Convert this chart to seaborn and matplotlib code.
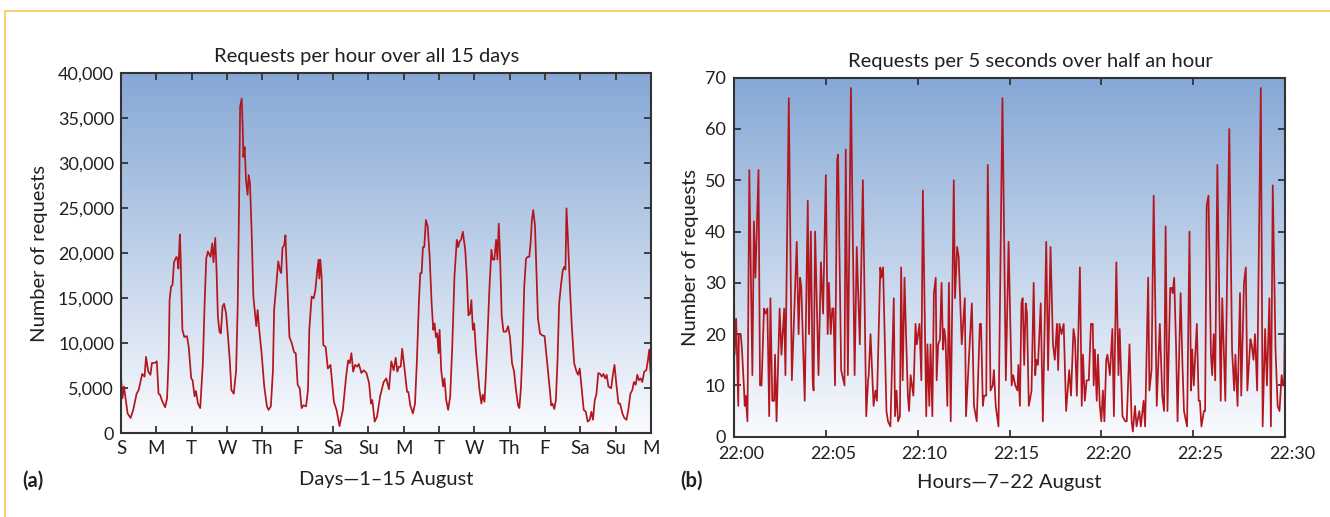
import numpy as np
import pandas as pd
import matplotlib
matplotlib.use("Agg")
import matplotlib.pyplot as plt
from matplotlib.lines import Line2D
from matplotlib.transforms import ScaledTranslation
import seaborn as sns

# ---------------- data: panel (a) requests per hour, 1-15 August ----------------
hours_a = [0, 1, 2, 4.5, 6.5, 8.3, 10.6, 12, 14.4, 16, 17, 18.5, 20, 21, 23.4, 24.3, 25.5, 26.6, 27.7, 28.8,
           30, 31.3, 32.4, 33, 34, 35, 36, 37.6, 38.3, 39, 40, 40.5, 41.7, 43, 44.8, 46, 47.7, 48.6, 50, 50.9,
           52.3, 53.8, 55.6, 56.8, 57.9, 59, 60.8, 62, 62.8, 64, 64.9, 65.8, 66.9, 67.8, 69, 70, 71.4, 72.7, 73.9, 75,
           76.6, 78.2, 79.3, 80.2, 80.9, 82, 82.7, 83.1, 84, 84.9, 86, 86.7, 87.6, 88.7, 89.9, 91.2, 91.9, 92.8, 93.9, 95.5,
           97.3, 99.1, 100.2, 101.8, 103.2, 104, 105.4, 106.8, 108, 108.8, 109.7, 110.8, 111.7, 112.6, 114.4, 116, 117.6, 118.7, 120, 121.4,
           122.7, 123.9, 125.7, 127, 127.9, 129.5, 130.9, 132, 133.3, 134.2, 134.7, 135.4, 136.3, 137.4, 139, 140.5, 142.3, 144.6, 146.4, 148.4,
           150.7, 152.9, 154.3, 155.4, 156.5, 157.7, 159, 160.4, 161.5, 163.3, 164.9, 166.7, 168.5, 169.8, 170.7, 172.3, 173.9, 176, 178.4, 180.2,
           182, 183.6, 185.2, 186.6, 187.7, 188.8, 190, 191, 192.7, 194.3, 195.2, 196.5, 198.3, 199.7, 201, 202.4, 203.3, 204.2, 205.1, 206,
           207.1, 208.3, 209.6, 211, 212.1, 213, 213.9, 214.8, 215.7, 216.4, 217.5, 218.8, 219.7, 220.9, 222.2, 223.6, 225, 226.5, 228.1, 229,
           229.9, 231, 232.2, 233.8, 234.9, 236, 237.1, 238, 239, 239.9, 241.2, 242.3, 243.5, 244.8, 245.7, 246.9, 248, 249.1, 250.3, 251.6,
           252.5, 253.6, 254.8, 255.7, 256.6, 257.5, 258.6, 259.8, 261.6, 262.9, 264.2, 265.6, 267, 268.3, 269.7, 270.6, 271.7, 272.8, 273.9, 275.1,
           276.2, 277.3, 278.2, 279.1, 280, 281.2, 282.3, 283.2, 284.6, 285.9, 287.7, 289.1, 290.2, 291.3, 292.2, 293.1, 294.3, 295.4, 296.5, 297.6,
           299, 300.1, 301, 301.9, 302.6, 303.5, 304.9, 306.2, 307.8, 309.4, 310.5, 311.6, 313, 314.3, 315.7, 317, 318.4, 319.5, 320.6, 321.8,
           322.9, 324.2, 325.4, 326.5, 327.7, 328.8, 329.9, 331.1, 332.9, 334.3, 335.2, 336.5, 337.9, 339, 340.6, 341.9, 343.3, 344.6, 346, 347.3,
           348.4, 349.6, 350.7, 351.8, 353, 354.1, 355.4, 356.8, 357.9, 358.8, 359.7]
requests_a = [6300, 3900, 5200, 2200, 1700, 2600, 4400, 4800, 6600, 6300, 8500, 6850, 6500, 7800, 7850, 8000, 4400, 4260, 3700, 3300,
              2900, 3900, 8500, 14800, 16300, 16500, 19000, 19600, 19400, 18300, 22100, 19600, 11500, 10700, 10800, 9600, 6100, 5900, 4100, 4700,
              3300, 2800, 7800, 14400, 19400, 20200, 19600, 21100, 19000, 21700, 18100, 13000, 11300, 11100, 14100, 14400, 13300, 10700, 8100, 4800,
              4400, 7000, 14400, 25600, 36300, 37200, 33700, 30700, 31800, 28100, 26500, 28700, 27800, 22600, 15200, 13000, 11900, 13700, 11500, 8900,
              5200, 3000, 2600, 3000, 7000, 13700, 16300, 19100, 18100, 17800, 20600, 20900, 22000, 18100, 10700, 10000, 9000, 8900, 5400, 5000,
              2800, 3100, 3000, 4800, 11500, 15200, 15000, 15900, 18100, 19300, 17200, 19300, 17200, 9800, 9600, 7200, 7600, 3500, 2600, 800,
              2600, 6300, 8100, 7800, 8900, 6850, 7600, 7400, 7700, 6700, 7000, 6700, 5600, 3300, 3700, 1300, 1850, 4100, 5700, 6100,
              4900, 8000, 7000, 8400, 6850, 7400, 7400, 9400, 7000, 4600, 4600, 3100, 2200, 3300, 8100, 14800, 17800, 17800, 20700, 20700,
              23700, 23000, 19800, 14400, 11500, 12200, 10700, 11100, 8900, 11500, 7000, 5200, 6100, 3700, 2600, 4100, 9600, 17400, 21500, 20700,
              21300, 21500, 22400, 20400, 17400, 13100, 13300, 14800, 11500, 12200, 8900, 7000, 4800, 3300, 4300, 3500, 7000, 11500, 16300, 20400,
              19300, 19300, 21500, 19300, 23300, 19600, 13000, 11300, 11300, 11900, 10700, 7800, 6850, 4800, 3100, 2800, 5200, 9600, 16300, 19400,
              19600, 19600, 21100, 23700, 24800, 23100, 17400, 12800, 11100, 10900, 10800, 8500, 6700, 4800, 3100, 3300, 2700, 3700, 8100, 14400,
              16700, 18100, 18500, 18200, 25000, 21900, 16300, 11900, 7800, 6850, 6500, 7200, 4800, 2600, 2400, 1300, 1500, 2400, 1500, 3700,
              4300, 6700, 6600, 6300, 6600, 6100, 6500, 5200, 5000, 6700, 7600, 5400, 3300, 3300, 2200, 1700, 1500, 2600, 4400, 4800,
              5700, 5400, 6500, 5900, 6100, 5700, 6850, 7000, 8100, 9300, 6700]
day_labels = ["S", "M", "T", "W", "Th", "F", "Sa", "Su", "M", "T", "W", "Th", "F", "Sa", "Su", "M"]
yticks_a = [0, 5000, 10000, 15000, 20000, 25000, 30000, 35000, 40000]

# ---------------- data: panel (b) requests per 5 seconds, 22:00-22:30 ----------------
seconds_b = [0, 2, 7, 10, 14, 16, 22, 26, 33, 35, 38, 44, 50, 60, 65, 70, 80, 85, 90, 98,
             103, 109, 115, 119, 125, 131, 134, 139, 149, 155, 164, 168, 179, 189, 205, 211, 216, 220, 231, 241,
             245, 251, 257, 260, 265, 276, 284, 291, 300, 306, 310, 316, 321, 325, 330, 337, 340, 350, 361, 365,
             372, 382, 394, 401, 411,
             421, 432, 438, 440, 446, 456, 462, 467, 478, 481, 487, 498, 503, 511, 522, 526, 531, 536, 542, 546,
             551, 557, 562, 568, 572, 577, 586, 593, 597, 606, 612, 617, 628, 632, 638, 642, 648, 653, 659, 662,
             667, 673, 678, 683, 687, 691, 697, 702, 708, 718, 722, 729, 734, 744, 754, 758, 768, 777, 784, 793,
             803, 807, 813, 817, 824, 829, 838, 845, 849, 855, 864,
             877, 888, 897, 907, 912, 919, 926, 929, 934, 939, 943, 948, 953, 957, 963, 972, 979, 984, 988, 993,
             1002, 1009, 1020, 1026, 1034, 1042, 1048, 1055, 1059, 1063, 1070, 1077, 1085, 1095, 1101, 1109, 1114, 1120, 1130, 1136,
             1140, 1146, 1152, 1159, 1166, 1172, 1175, 1179, 1185, 1189, 1195, 1200, 1205, 1210, 1216, 1220, 1228, 1236, 1241, 1249,
             1256, 1260, 1269, 1278, 1283, 1292, 1299, 1303, 1310, 1315, 1324, 1329,
             1338, 1343, 1353, 1357, 1364, 1371, 1381, 1391, 1399, 1405, 1410, 1416, 1425, 1430, 1433, 1438, 1444, 1449, 1459, 1465,
             1470, 1480, 1488, 1493, 1497, 1502, 1512, 1518, 1522, 1527, 1535, 1539, 1544, 1550, 1558, 1562, 1567, 1572, 1579, 1590,
             1595, 1605, 1618, 1627, 1634, 1638, 1645, 1653, 1657, 1666, 1672, 1677, 1687, 1691, 1697, 1702, 1709, 1721, 1727, 1735,
             1741, 1749, 1754, 1760, 1769, 1776, 1782, 1789, 1793, 1797, 1800]
requests_b = [28, 16, 23, 16, 6, 20, 20, 17, 9, 6, 8, 3, 52, 12, 42, 31, 52, 10, 10, 25,
              24, 25, 4, 27, 7, 7, 16, 3, 25, 16, 25, 12, 66, 11, 38, 20, 31, 29, 7, 46,
              20, 40, 11, 9, 40, 12, 34, 24, 51, 20, 30, 20, 25, 25, 10, 54, 55, 13, 10, 56,
              12, 68, 12, 37, 18,
              50, 4, 11, 12, 20, 6, 9, 7, 33, 31, 33, 5, 3, 2, 27, 4, 9, 3, 4, 33,
              11, 31, 20, 8, 5, 12, 8, 22, 18, 22, 11, 48, 4, 18, 6, 18, 4, 28, 31, 11,
              18, 19, 30, 17, 21, 19, 6, 30, 3, 50, 27, 37, 35, 18, 27, 4, 16, 26, 6, 3,
              22, 22, 6, 8, 8, 53, 9, 10, 13, 6, 2,
              66, 11, 38, 10, 12, 10, 9, 14, 6, 26, 27, 14, 26, 24, 6, 9, 30, 12, 15, 14,
              26, 3, 38, 13, 37, 18, 15, 22, 13, 22, 20, 22, 5, 13, 8, 21, 19, 8, 33, 6,
              16, 7, 11, 11, 22, 22, 10, 17, 7, 16, 6, 3, 9, 3, 15, 16, 12, 21, 4, 34,
              12, 21, 4, 3, 3, 18, 3, 1, 6, 2, 5, 2,
              7, 2, 31, 9, 13, 47, 6, 22, 8, 5, 41, 5, 29, 29, 28, 31, 18, 3, 28, 14,
              5, 2, 40, 9, 17, 10, 22, 7, 7, 2, 5, 5, 45, 47, 16, 12, 20, 11, 53, 7,
              27, 7, 60, 17, 9, 16, 6, 28, 8, 30, 33, 9, 19, 18, 15, 20, 9, 68, 2, 21,
              10, 27, 2, 49, 17, 6, 5, 12, 10, 10, 25]
time_labels = ["22:00", "22:05", "22:10", "22:15", "22:20", "22:25", "22:30"]
yticks_b = [0, 10, 20, 30, 40, 50, 60, 70]

assert len(hours_a) == len(requests_a)
assert len(seconds_b) == len(requests_b)

df_a = pd.DataFrame({"hour": hours_a, "requests": requests_a})
df_b = pd.DataFrame({"second": seconds_b, "requests": requests_b})

# ---------------- style ----------------
sns.set_theme(style="ticks")
FONT = ["Lato", "DejaVu Sans"]
plt.rcParams["font.family"] = FONT
TEXT = "#231f20"
LINE = "#b3161d"
SPINE = "#333333"
LBL = 14.5
TCK = 13.5

W, H = 1330, 517
fig = plt.figure(figsize=(W / 100, H / 100), dpi=100)
fig.patch.set_facecolor("white")

# yellow frame (top and left edges)
fig.add_artist(Line2D([5 / W, 1.0], [1 - 11 / H, 1 - 11 / H], transform=fig.transFigure,
                      color="#f9cf6c", lw=1.4))
fig.add_artist(Line2D([5 / W, 5 / W], [0, 1 - 11 / H], transform=fig.transFigure,
                      color="#f9cf6c", lw=1.4))

def box(x0, x1, ytop, ybot):
    return [x0 / W, 1 - ybot / H, (x1 - x0) / W, (ybot - ytop) / H]

ax_a = fig.add_axes(box(121, 651, 73.3, 433.3))
ax_b = fig.add_axes(box(734, 1285, 77.7, 436.7))

top_c = np.array([134, 168, 213]) / 255
bot_c = np.array([250, 251, 254]) / 255
t = np.linspace(0, 1, 256)[:, None, None]
grad = top_c[None, None, :] * (1 - t) + bot_c[None, None, :] * t

def style_axes(ax):
    ax.imshow(grad, extent=[0, 1, 0, 1], transform=ax.transAxes, aspect="auto",
              zorder=0, interpolation="bilinear")
    for s in ax.spines.values():
        s.set_color(SPINE)
        s.set_linewidth(1.5)
        s.set_zorder(5)
    ax.tick_params(direction="in", top=True, right=True, left=True, bottom=True,
                   length=5, width=1.3, color=SPINE, labelsize=TCK, labelcolor=TEXT, pad=5)
    ax.grid(False)

# ---------------- panel (a) ----------------
style_axes(ax_a)
sns.lineplot(data=df_a, x="hour", y="requests", ax=ax_a, color=LINE, linewidth=1.25,
             estimator=None, sort=False, zorder=3)
ax_a.set_xlim(0, 360)
ax_a.set_ylim(0, 40000)
ax_a.set_xticks([24 * i for i in range(len(day_labels))])
ax_a.set_xticklabels(day_labels)
ax_a.set_yticks(yticks_a)
ax_a.set_yticklabels([f"{v:,}" for v in yticks_a])
ax_a.tick_params(axis="y", labelsize=13)
ax_a.set_xlabel("Days\u20141\u201315 August", fontsize=LBL, color=TEXT, labelpad=10)
ax_a.set_ylabel("Number of requests", fontsize=LBL, color=TEXT, labelpad=7)
ax_a.text(0.464, 1.048, "Requests per hour over all 15 days", transform=ax_a.transAxes,
          ha="center", va="center", fontsize=LBL, color=TEXT)

# ---------------- panel (b) ----------------
style_axes(ax_b)
sns.lineplot(data=df_b, x="second", y="requests", ax=ax_b, color=LINE, linewidth=1.25,
             estimator=None, sort=False, zorder=3)
ax_b.set_xlim(0, 1800)
ax_b.set_ylim(0, 70)
ax_b.set_xticks([300 * i for i in range(len(time_labels))])
ax_b.set_xticklabels(time_labels)
ax_b.set_yticks(yticks_b)
ax_b.set_yticklabels([str(v) for v in yticks_b])
ax_b.tick_params(axis="x", labelsize=13, pad=7)
ax_b.tick_params(axis="y", labelsize=13, pad=6)
shift = ScaledTranslation(7 / 100, 0, fig.dpi_scale_trans)
for lab in ax_b.get_xticklabels():
    lab.set_transform(lab.get_transform() + shift)
ax_b.set_xlabel("Hours\u20147\u201322 August", fontsize=LBL, color=TEXT, labelpad=8)
ax_b.set_ylabel("Number of requests", fontsize=LBL, color=TEXT, labelpad=4)
ax_b.text(0.537, 1.045, "Requests per 5 seconds over half an hour", transform=ax_b.transAxes,
          ha="center", va="center", fontsize=LBL, color=TEXT)

# panel letters
fig.text(22 / W, 1 - 481 / H, "(a)", fontsize=LBL, fontweight="bold", color=TEXT,
         ha="left", va="center")
fig.text(680 / W, 1 - 481 / H, "(b)", fontsize=LBL, fontweight="bold", color=TEXT,
         ha="left", va="center")

fig.savefig("out.png", dpi=100, facecolor="white")
